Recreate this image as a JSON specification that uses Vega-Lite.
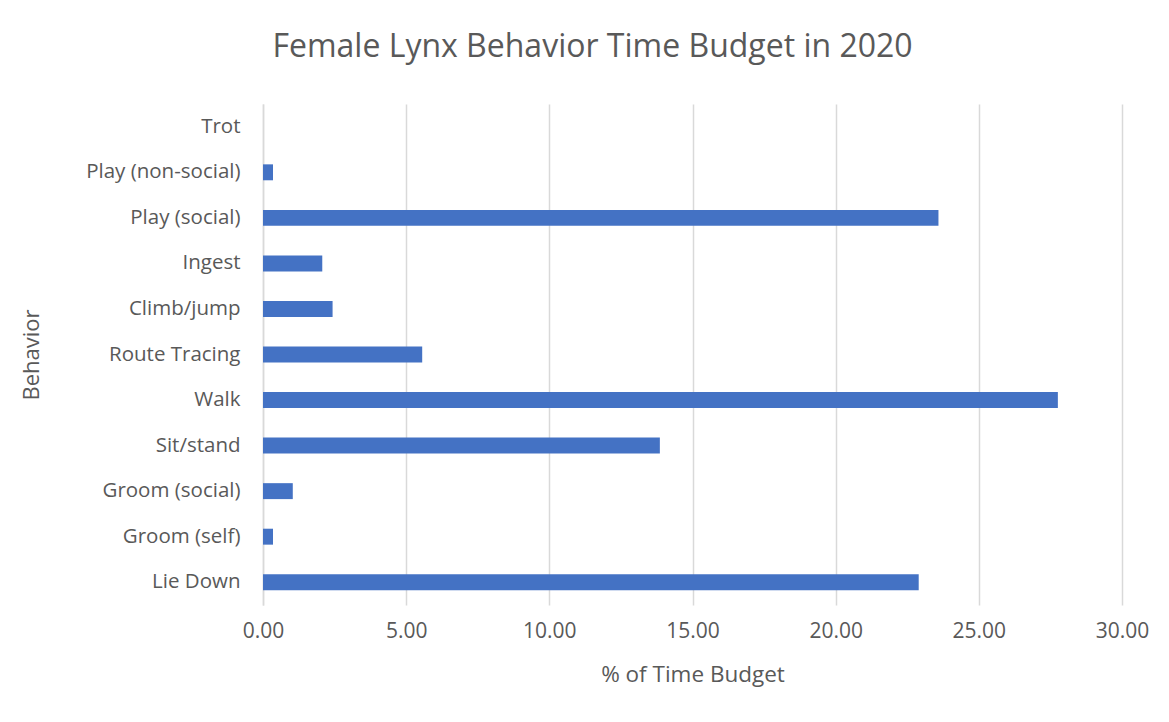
{
  "$schema": "https://vega.github.io/schema/vega-lite/v6.json",
  "autosize": {"type": "none"},
  "width": 859,
  "height": 501,
  "padding": {"left": 263, "top": 104, "right": 47, "bottom": 117},
  "background": "white",
  "title": {
    "text": "Female Lynx Behavior Time Budget in 2020",
    "font": "Open Sans",
    "fontSize": 32,
    "fontWeight": "normal",
    "color": "#595959",
    "anchor": "middle",
    "dx": -100,
    "offset": 40
  },
  "data": {
    "values": [
      {"behavior": "Trot", "pct": 0},
      {"behavior": "Play (non-social)", "pct": 0.35},
      {"behavior": "Play (social)", "pct": 23.59},
      {"behavior": "Ingest", "pct": 2.07},
      {"behavior": "Climb/jump", "pct": 2.43},
      {"behavior": "Route Tracing", "pct": 5.56},
      {"behavior": "Walk", "pct": 27.76},
      {"behavior": "Sit/stand", "pct": 13.86},
      {"behavior": "Groom (social)", "pct": 1.04},
      {"behavior": "Groom (self)", "pct": 0.35},
      {"behavior": "Lie Down", "pct": 22.9}
    ]
  },
  "mark": {"type": "bar", "color": "#4472C4"},
  "encoding": {
    "y": {
      "field": "behavior",
      "type": "nominal",
      "sort": null,
      "scale": {"paddingInner": 0.65, "paddingOuter": 0.325},
      "axis": {
        "title": "Behavior",
        "titleFont": "Open Sans",
        "titleFontSize": 22,
        "titleFontWeight": "normal",
        "titleColor": "#595959",
        "titleX": -220,
        "labelFont": "Open Sans",
        "labelFontSize": 20.5,
        "labelColor": "#595959",
        "labelPadding": 23,
        "ticks": false,
        "domain": true,
        "domainColor": "#d9d9d9",
        "domainWidth": 1.5,
        "grid": false
      }
    },
    "x": {
      "field": "pct",
      "type": "quantitative",
      "scale": {"domain": [0, 30], "nice": false},
      "axis": {
        "title": "% of Time Budget",
        "titleFont": "Open Sans",
        "titleFontSize": 22.5,
        "titleFontWeight": "normal",
        "titleColor": "#595959",
        "titlePadding": 22,
        "values": [0, 5, 10, 15, 20, 25, 30],
        "format": ".2f",
        "labelFont": "Open Sans",
        "labelFontSize": 21,
        "labelColor": "#595959",
        "labelPadding": 15,
        "labelFlush": false,
        "ticks": false,
        "domain": false,
        "grid": true,
        "gridColor": "#d9d9d9",
        "gridWidth": 1.5
      }
    }
  },
  "config": {"view": {"stroke": null}}
}
